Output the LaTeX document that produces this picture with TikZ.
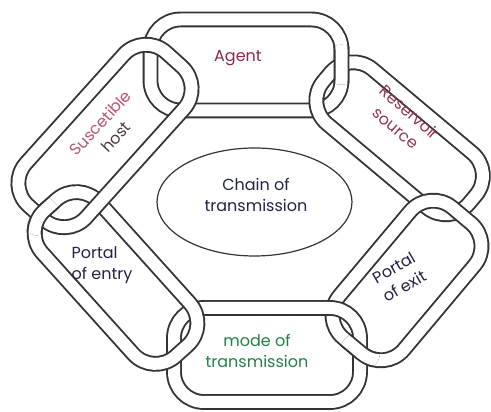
\documentclass[tikz,border=0pt]{standalone}
\usepackage{fontspec}
\setmainfont{Poppins}
\usetikzlibrary{intersections,shapes.geometric}

\definecolor{inkline}{RGB}{52,52,52}
\definecolor{agentred}{RGB}{140,40,72}
\definecolor{hostpink}{RGB}{190,84,112}
\definecolor{hostdark}{RGB}{80,58,72}
\definecolor{resred}{RGB}{150,52,84}
\definecolor{inknavy}{RGB}{34,36,70}
\definecolor{inkgreen}{RGB}{36,128,70}

\tikzset{
  band/.style={draw=inkline, line width=1.9pt, double=white,
               double distance=12pt, rounded corners=30pt},
  linktext/.style={font=\fontsize{16}{21}\selectfont, align=center, inner sep=0pt},
}

% one chain link: name, centre x, centre y, rotation, half length, half width
\newcommand\chainlink[6]{%
  \begin{scope}[shift={(#2,#3)}, rotate=#4]
    \draw[band, name path global=#1] (-#5,-#6) -- (#5,-#6) -- (#5,#6) -- (-#5,#6) -- cycle;
  \end{scope}}
% the same link again, painted only inside a small disc round a crossing
\newcommand\overlink[7]{%
  \begin{scope}
    \clip (#6) circle (20pt);
    \begin{scope}[shift={(#1,#2)}, rotate=#3]
      \draw[band] (-#4,-#5) -- (#4,-#5) -- (#4,#5) -- (-#4,#5) -- cycle;
    \end{scope}
  \end{scope}}

\begin{document}
\begin{tikzpicture}[x=1pt, y=1pt]
  \useasboundingbox (0,0) rectangle (491,412);
  \fill[white] (0,0) rectangle (491,412);

  % the six links of the ring
  \chainlink{Lagent}{246}{347}{0}{95.5}{45.5}
  \chainlink{Lres}{399.6}{273.7}{-40}{95}{35.5}
  \chainlink{Lexit}{407}{131.5}{50}{85}{42}
  \chainlink{Lmode}{267}{57}{0}{93}{47}
  \chainlink{Lentry}{116}{134}{-48}{98}{38}
  \chainlink{Lhost}{105}{276}{48}{103}{40.5}

  % crossings of neighbouring links
  \path[name intersections={of=Lagent and Lres, by={x12a,x12b}}];
  \path[name intersections={of=Lres and Lexit, by={x23a,x23b}}];
  \path[name intersections={of=Lexit and Lmode, by={x34a,x34b}}];
  \path[name intersections={of=Lmode and Lentry, by={x45a,x45b}}];
  \path[name intersections={of=Lentry and Lhost, by={x56a,x56b}}];
  \path[name intersections={of=Lhost and Lagent, by={x61a,x61b}}];

  % weave: the earlier link passes over at one crossing of each pair
  \overlink{246}{347}{0}{95.5}{45.5}{x12b}
  \overlink{399.6}{273.7}{-40}{95}{35.5}{x23b}
  \overlink{407}{131.5}{50}{85}{42}{x34b}
  \overlink{267}{57}{0}{93}{47}{x45b}
  \overlink{116}{134}{-48}{98}{38}{x56b}
  \overlink{246}{347}{0}{95.5}{45.5}{x61b}

  % centre
  \node[draw=inkline, line width=1.2pt, ellipse, minimum width=195pt,
        minimum height=108pt] (centre) at (254.5,210) {};
  \node[linktext, text=inknavy] (chain) at (256,217) {Chain of\\transmission};

  % link labels
  \node[linktext, text=agentred] (agent) at (238,354) {Agent};
  \node[linktext, rotate=47] (host) at (108,282)
       {\textcolor{hostpink}{Suscetible}\\\textcolor{hostdark}{host}};
  \node[linktext, text=resred, rotate=-41] (reservoir) at (403,292) {Reservoir\\source};
  \node[linktext, text=inknavy, rotate=30] (exit) at (399,135) {Portal\\of exit};
  \node[linktext, text=inknavy, align=left] (entry) at (102,147) {Portal\\of entry};
  \node[linktext, text=inkgreen] (mode) at (257,61) {mode of\\transmission};
\end{tikzpicture}
\end{document}
